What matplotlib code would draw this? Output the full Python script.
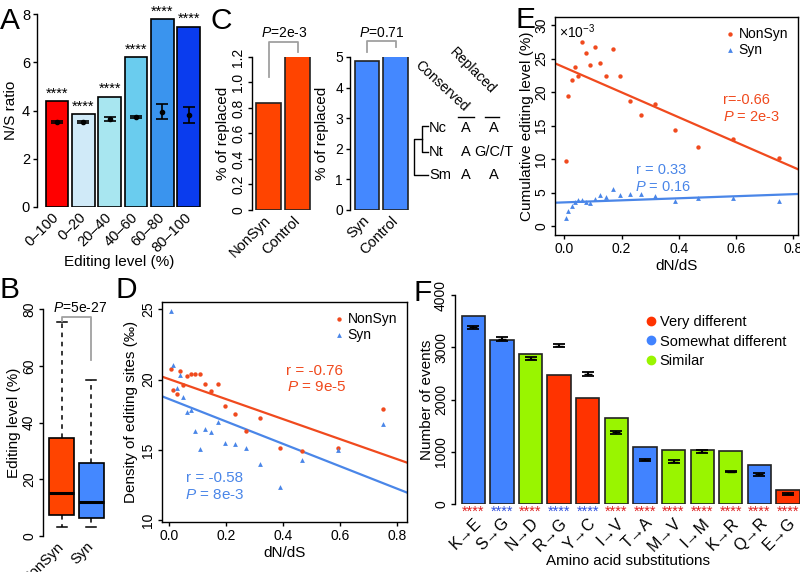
import numpy as np
import matplotlib
matplotlib.use('Agg')
import matplotlib.pyplot as plt
from matplotlib.lines import Line2D

plt.rcParams['font.family'] = ['Liberation Sans', 'DejaVu Sans']
plt.rcParams['font.size'] = 10
plt.rcParams['mathtext.fontset'] = 'custom'
plt.rcParams['mathtext.it'] = 'Liberation Sans:italic'
plt.rcParams['mathtext.rm'] = 'Liberation Sans'
plt.rcParams['axes.unicode_minus'] = False
plt.rcParams['axes.linewidth'] = 1.0

# ---------------- data ----------------
# Panel A
A_levels = ['0–100', '0–20', '20–40', '40–60', '60–80', '80–100']
A_ratio = [4.38, 3.84, 4.58, 6.22, 7.78, 7.48]
A_exp_mean = [3.53, 3.52, 3.65, 3.72, 3.95, 3.80]
A_exp_err = [0.05, 0.03, 0.10, 0.05, 0.30, 0.33]
A_colors = ['#FF0000', '#D0EAF8', '#A8E6F0', '#6ACCEE', '#3A94EE', '#0A3CEE']

# Panel B (box stats: low whisker, q1, median, q3, high whisker)
B_groups = ['NonSyn', 'Syn']
B_whislo = [3, 3]
B_q1 = [7.4, 6.3]
B_med = [15, 12]
B_q3 = [34.5, 25.7]
B_whishi = [75.5, 55]

# Panel C
C_left_labels = ['NonSyn', 'Control']
C_left_vals = [0.84, 1.21]
C_right_labels = ['Syn', 'Control']
C_right_vals = [4.88, 5.18]

# Panels D & E (shared dN/dS values)
dnds = [0.004, 0.013, 0.026, 0.038, 0.049, 0.061, 0.076, 0.089, 0.106, 0.125,
        0.145, 0.170, 0.196, 0.230, 0.268, 0.317, 0.387, 0.467, 0.591, 0.749]
D_nonsyn = [20.73, 19.29, 19.0, 20.6, 19.64, 20.28, 20.4, 20.4, 20.4, 19.67,
            19.2, 19.67, 18.15, 17.58, 16.33, 17.27, 15.14, 14.95, 15.14, 17.89]
D_syn = [24.9, 21.07, 19.43, 20.36, 18.77, 17.7, 17.84, 16.33, 15.07, 16.49,
         16.28, 16.97, 15.5, 15.4, 15.12, 14.03, 12.4, 14.31, 14.98, 16.82]
D_fit_nonsyn = [-7.1, 20.03]   # slope, intercept
D_fit_syn = [-7.95, 18.61]
E_nonsyn = [9.75, 19.4, 21.74, 23.68, 22.34, 27.46, 25.82, 24.03, 26.77, 24.28,
            22.39, 26.42, 22.39, 18.71, 16.57, 18.16, 14.33, 11.79, 12.94, 10.10]
E_syn = [1.24, 2.24, 2.94, 3.63, 3.83, 3.88, 3.58, 3.43, 3.98, 4.63,
         4.28, 5.57, 4.63, 4.78, 4.83, 4.48, 3.68, 4.23, 4.13, 3.78]
E_fit_nonsyn = [-18.6, 23.67]
E_fit_syn = [1.53, 3.53]

# Panel F
F_subs = ['K→E', 'S→G', 'N→D', 'R→G', 'Y→C', 'I→V', 'T→A', 'M→V', 'I→M', 'K→R', 'Q→R', 'E→G']
F_counts = [3590, 3130, 2870, 2460, 2020, 1640, 1100, 1040, 1040, 1020, 740, 270]
F_class = ['Somewhat different', 'Somewhat different', 'Similar', 'Very different',
           'Very different', 'Similar', 'Somewhat different', 'Similar', 'Similar',
           'Similar', 'Somewhat different', 'Very different']
F_exp_mean = [3380, 3160, 2780, 3030, 2490, 1370, 840, 810, 1000, 620, 570, 190]
F_exp_err = [30, 40, 30, 25, 40, 30, 25, 30, 25, 15, 30, 25]
F_star_dir = ['up', 'down', 'up', 'down', 'down', 'up', 'up', 'up', 'up', 'up', 'up', 'up']

c_ns = '#F04A1E'
c_sy = '#4A86E8'
F_class_colors = {'Very different': '#FF3300', 'Somewhat different': '#4183FF', 'Similar': '#99F500'}
F_star_colors = {'up': '#E02020', 'down': '#3050E0'}

W, H = 800, 572
fig = plt.figure(figsize=(8, 5.72), dpi=100)

TICK_KW = dict(direction='out', length=3, width=1, labelsize=10, pad=2)


def pax(l, t, r, b):
    ax = fig.add_axes([l / W, 1 - b / H, (r - l) / W, (b - t) / H])
    ax._px = (l, r)
    return ax


def keep_spines(ax, sides):
    for s in ['top', 'right', 'bottom', 'left']:
        ax.spines[s].set_visible(s in sides)
    ax.tick_params(**TICK_KW)


def ylabel_at(ax, text, center_px):
    l, r = ax._px
    ax.set_ylabel(text, fontsize=11)
    ax.yaxis.set_label_coords((center_px + 7 - l) / (r - l), 0.5)


def vert_yticks(ax):
    ax.tick_params(axis='y', labelrotation=90)
    for lab in ax.get_yticklabels():
        lab.set_va('center')


# ---------------- Panel A ----------------
axA = pax(37, 14, 202, 207)
xa = np.arange(len(A_levels))
axA.bar(xa, A_ratio, width=0.86, color=A_colors, edgecolor='black', linewidth=1.2)
axA.errorbar(xa, A_exp_mean, yerr=A_exp_err, fmt='o', color='black', ms=3,
             capsize=4.5, elinewidth=1.2, capthick=1.2)
for xi, v in zip(xa, A_ratio):
    axA.text(xi, v + 0.02, '****', ha='center', va='bottom', fontsize=10.5, clip_on=False)
axA.set_xlim(-0.76, 5.5)
axA.set_ylim(0, 8)
keep_spines(axA, ['left'])
axA.spines['left'].set_bounds(0, 8)
axA.set_yticks([0, 2, 4, 6, 8])
axA.tick_params(axis='y', labelsize=10.5)
axA.set_xticks(xa)
axA.set_xticklabels(A_levels, rotation=45, ha='right', va='center', rotation_mode='anchor',
                    fontsize=10.5)
axA.tick_params(axis='x', length=0, pad=6)
ylabel_at(axA, 'N/S ratio', 11)
axA.set_xlabel('Editing level (%)', fontsize=11, labelpad=0)

# ---------------- Panel B ----------------
axB = pax(43, 309, 109, 536)
stats = []
for i, g in enumerate(B_groups):
    stats.append(dict(label=g, whislo=B_whislo[i], q1=B_q1[i], med=B_med[i],
                      q3=B_q3[i], whishi=B_whishi[i], fliers=[]))
bp = axB.bxp(stats, positions=[1, 2], widths=0.85, patch_artist=True, showfliers=False,
             boxprops=dict(edgecolor='black', linewidth=1.2),
             whiskerprops=dict(linestyle=(0, (3, 3)), linewidth=1.1, color='black'),
             capprops=dict(linewidth=1.1, color='black'),
             medianprops=dict(color='black', linewidth=2.2))
for patch, c in zip(bp['boxes'], ['#FF4400', '#4488FF']):
    patch.set_facecolor(c)
for cap in bp['caps']:
    m = np.mean(cap.get_xdata())
    cap.set_xdata([m - 0.17, m + 0.17])
axB.set_xlim(0.37, 2.6)
axB.set_ylim(0, 80)
keep_spines(axB, ['left'])
axB.spines['left'].set_bounds(0, 80)
axB.set_yticks([0, 20, 40, 60, 80])
vert_yticks(axB)
axB.set_xticks([1, 2])
axB.set_xticklabels(B_groups, rotation=45, ha='right', va='center', rotation_mode='anchor',
                    fontsize=10.5)
axB.tick_params(axis='x', length=0, pad=6)
axB.plot([1, 1, 2, 2], [75.8, 77.2, 77.2, 62], color='#A0A0A0', lw=1.3, clip_on=False)
axB.text(1.62, 80.2, r'$\it{P}$=5e-27', ha='center', va='center', fontsize=10, clip_on=False)
ylabel_at(axB, 'Editing level (%)', 14)

# ---------------- Panel C left ----------------
axC1 = pax(252, 57, 312, 210)
xc = np.arange(2)
axC1.bar(xc, C_left_vals, width=0.86, color='#FF4400', edgecolor='#222222', linewidth=1.2)
axC1.set_xlim(-0.57, 1.5)
axC1.set_ylim(0, 1.2)
keep_spines(axC1, ['left'])
axC1.spines['left'].set_bounds(0, 1.2)
axC1.set_yticks([0, 0.2, 0.4, 0.6, 0.8, 1.0, 1.2])
axC1.set_yticklabels(['0', '0.2', '0.4', '0.6', '0.8', '1.0', '1.2'])
vert_yticks(axC1)
axC1.set_xticks(xc)
axC1.set_xticklabels(C_left_labels, rotation=45, ha='right', va='center', rotation_mode='anchor',
                     fontsize=10.5)
axC1.tick_params(axis='x', length=0, pad=6)
axC1.plot([0, 0, 1, 1], [1.045, 1.32, 1.32, 1.24], color='#A0A0A0', lw=1.3, clip_on=False)
axC1.text(0.55, 1.39, r'$\it{P}$=2e-3', ha='center', va='center', fontsize=10, clip_on=False)
ylabel_at(axC1, '% of replaced', 223)

# ---------------- Panel C right ----------------
axC2 = pax(350, 57, 410, 210)
axC2.bar(xc, C_right_vals, width=0.86, color='#4488FF', edgecolor='#222222', linewidth=1.2)
axC2.set_xlim(-0.6, 1.5)
axC2.set_ylim(0, 5)
keep_spines(axC2, ['left'])
axC2.spines['left'].set_bounds(0, 5)
axC2.set_yticks([0, 1, 2, 3, 4, 5])
axC2.set_xticks(xc)
axC2.set_xticklabels(C_right_labels, rotation=45, ha='right', va='center', rotation_mode='anchor',
                     fontsize=10.5)
axC2.tick_params(axis='x', length=0, pad=6)
axC2.plot([0, 0, 1, 1], [5.17, 5.53, 5.53, 5.34], color='#A0A0A0', lw=1.3, clip_on=False)
axC2.text(0.5, 5.77, r'$\it{P}$=0.71', ha='center', va='center', fontsize=10, clip_on=False)
ylabel_at(axC2, '% of replaced', 322)

# ---------------- Panel D ----------------
axD = pax(162, 302, 407, 522)
axD.scatter(dnds, D_nonsyn, s=10, marker='o', color=c_ns, lw=0, label='NonSyn', zorder=3)
axD.scatter(dnds, D_syn, s=12, marker='^', color=c_sy, lw=0, label='Syn', zorder=3)
xlD = np.array([-0.026, 0.835])
axD.plot(xlD, D_fit_nonsyn[0] * xlD + D_fit_nonsyn[1], color=c_ns, lw=1.6)
axD.plot(xlD, D_fit_syn[0] * xlD + D_fit_syn[1], color=c_sy, lw=1.6)
axD.set_xlim(*xlD)
axD.set_ylim(9.88, 25.52)
axD.set_xticks([0, 0.2, 0.4, 0.6, 0.8])
axD.set_yticks([10, 15, 20, 25])
axD.tick_params(**TICK_KW)
vert_yticks(axD)
axD.set_xlabel('dN/dS', fontsize=11, labelpad=2)
ylabel_at(axD, 'Density of editing sites (‰)', 131)
axD.legend(loc='upper right', frameon=False, handletextpad=0.1, borderaxespad=0.3,
           labelspacing=0.15, handlelength=1.0, fontsize=10)
axD.text(0.505, 0.67, 'r = -0.76', transform=axD.transAxes, color=c_ns, fontsize=11, ha='left')
axD.text(0.51, 0.595, r'$\it{P}$ = 9e-5', transform=axD.transAxes, color=c_ns, fontsize=11, ha='left')
axD.text(0.10, 0.18, 'r = -0.58', transform=axD.transAxes, color=c_sy, fontsize=11, ha='left')
axD.text(0.095, 0.105, r'$\it{P}$ = 8e-3', transform=axD.transAxes, color=c_sy, fontsize=11, ha='left')

# ---------------- Panel E ----------------
axE = pax(555, 17, 798, 235)
axE.scatter(dnds, E_nonsyn, s=10, marker='o', color=c_ns, lw=0, label='NonSyn', zorder=3)
axE.scatter(dnds, E_syn, s=12, marker='^', color=c_sy, lw=0, label='Syn', zorder=3)
xlE = np.array([-0.033, 0.817])
axE.plot(xlE, E_fit_nonsyn[0] * xlE + E_fit_nonsyn[1], color=c_ns, lw=1.6)
axE.plot(xlE, E_fit_syn[0] * xlE + E_fit_syn[1], color=c_sy, lw=1.6)
axE.set_xlim(*xlE)
axE.set_ylim(-1.34, 31.2)
axE.set_xticks([0, 0.2, 0.4, 0.6, 0.8])
axE.set_yticks([0, 5, 10, 15, 20, 25, 30])
axE.tick_params(**TICK_KW)
vert_yticks(axE)
axE.set_xlabel('dN/dS', fontsize=11, labelpad=2)
ylabel_at(axE, 'Cumulative editing level (%)', 527)
axE.legend(loc='upper right', frameon=False, handletextpad=0.1, borderaxespad=0.3,
           labelspacing=0.15, handlelength=1.0, fontsize=10)
axE.text(0.015, 0.975, r'×10$^{-3}$', transform=axE.transAxes, fontsize=10, ha='left', va='top')
axE.text(0.69, 0.60, 'r=-0.66', transform=axE.transAxes, color=c_ns, fontsize=10.5, ha='left')
axE.text(0.69, 0.525, r'$\it{P}$ = 2e-3', transform=axE.transAxes, color=c_ns, fontsize=10.5, ha='left')
axE.text(0.335, 0.28, 'r = 0.33', transform=axE.transAxes, color=c_sy, fontsize=10.5, ha='left')
axE.text(0.33, 0.20, r'$\it{P}$ = 0.16', transform=axE.transAxes, color=c_sy, fontsize=10.5, ha='left')

# ---------------- Panel F ----------------
axF = pax(455, 295, 800, 504)
xf = np.arange(len(F_subs))
axF.bar(xf, F_counts, width=0.815, color=[F_class_colors[c] for c in F_class],
        edgecolor='#222222', linewidth=1.2)
axF.errorbar(xf, F_exp_mean, yerr=F_exp_err, fmt='_', color='black', ms=6,
             capsize=4.5, elinewidth=1.5, capthick=1.3)
for xi, d in zip(xf, F_star_dir):
    axF.text(xi, -15, '****', ha='center', va='top', fontsize=10.5,
             color=F_star_colors[d], clip_on=False)
axF.set_xlim(-0.64, 11.42)
axF.set_ylim(0, 4000)
keep_spines(axF, ['left'])
axF.spines['left'].set_bounds(0, 4000)
axF.set_yticks([0, 1000, 2000, 3000, 4000])
vert_yticks(axF)
axF.set_xticks(xf)
axF.set_xticklabels(F_subs, rotation=45, ha='right', va='top', rotation_mode='anchor',
                    fontsize=11.5)
axF.tick_params(axis='x', length=0, pad=8)
axF.set_xlabel('Amino acid substitutions', fontsize=11, labelpad=0)
ylabel_at(axF, 'Number of events', 427)
handles = [Line2D([], [], marker='o', ls='none', color=F_class_colors[k], ms=6)
           for k in ['Very different', 'Somewhat different', 'Similar']]
axF.legend(handles, ['Very different', 'Somewhat different', 'Similar'], loc='upper left',
           bbox_to_anchor=(0.53, 0.93), frameon=False, handletextpad=0.1,
           labelspacing=0.35, handlelength=1.0, fontsize=10.5, borderaxespad=0)

# ---------------- overlay: panel letters & tree annotation ----------------
ov = fig.add_axes([0, 0, 1, 1], facecolor='none', zorder=10)
ov.set_xlim(0, W)
ov.set_ylim(H, 0)
ov.axis('off')
for letter, (lx, ly) in {'A': (0, 7), 'B': (0, 276), 'C': (210, 7), 'D': (115, 276),
                         'E': (515, 6), 'F': (413, 279)}.items():
    ov.text(lx, ly, letter, fontsize=21.5, ha='left', va='top')

ov.text(442, 86, 'Conserved', rotation=-43, ha='center', va='center', fontsize=10)
ov.text(473, 71, 'Replaced', rotation=-45, ha='center', va='center', fontsize=10)
ov.plot([458, 474], [117, 117], color='black', lw=1)
ov.plot([485, 499], [117, 117], color='black', lw=1)
for name, a1, a2, yy in [('Nc', 'A', 'A', 128), ('Nt', 'A', 'G/C/T', 152), ('Sm', 'A', 'A', 175)]:
    ov.text(429, yy, name, ha='left', va='center', fontsize=10.5)
    ov.text(466, yy, a1, ha='center', va='center', fontsize=10.5)
    ov.text(494, yy, a2, ha='center', va='center', fontsize=10.5)
ov.plot([428, 421.7, 421.7, 428], [126, 126, 151.7, 151.7], color='black', lw=1)
ov.plot([421.7, 414, 414, 428], [139, 139, 175, 175], color='black', lw=1)

fig.savefig('out.png', dpi=100)
